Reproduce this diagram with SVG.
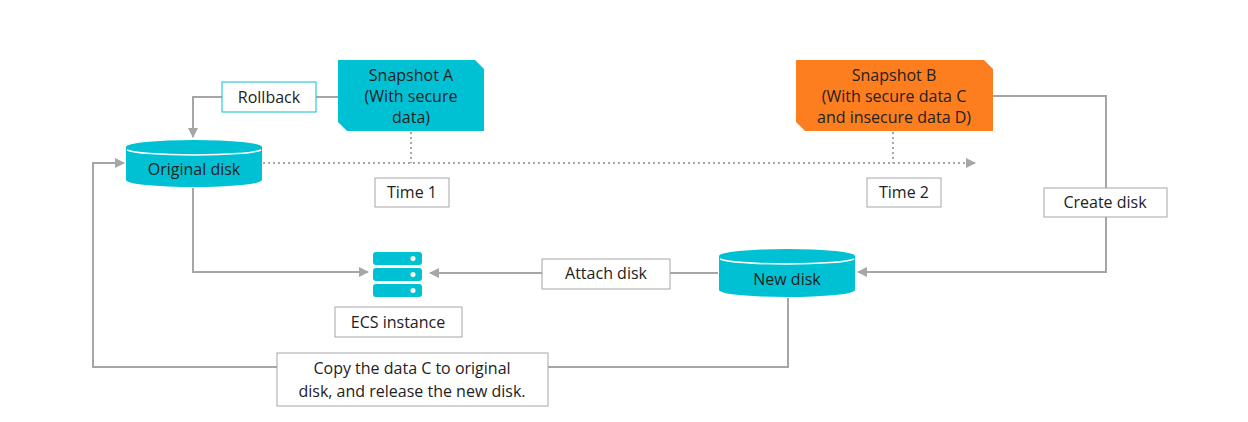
<svg xmlns="http://www.w3.org/2000/svg" width="1248" height="422" viewBox="0 0 1248 422">
<style>
text{font-family:"Open Sans","Noto Sans",sans-serif;font-size:16px;fill:#222;text-anchor:middle}
.ln{stroke:#a6a6a6;stroke-width:2;fill:none}
.dot{stroke:#a6a6a6;stroke-width:2;fill:none;stroke-dasharray:2 3}
.lb{fill:#fff;stroke:#a6a6a6;stroke-width:1}
.cyl{fill:#00c1d4}
</style>
<defs><marker id="ar" viewBox="0 0 10 10" refX="9" refY="5" markerWidth="5" markerHeight="5" orient="auto"><path d="M0,0L10,5L0,10z" fill="#a6a6a6"/></marker></defs>
<rect width="1248" height="422" fill="#fff"/>
<g id="connectors">
<path class="ln" d="M338,97H193V137" marker-end="url(#ar)"/>
<path class="dot" d="M263,163H975" marker-end="url(#ar)"/>
<path class="dot" d="M411,132V163M893,132V163"/>
<path class="ln" d="M993,96H1106V272H858" marker-end="url(#ar)"/>
<path class="ln" d="M193,188V272H368" marker-end="url(#ar)"/>
<path class="ln" d="M718,273H430" marker-end="url(#ar)"/>
<path class="ln" d="M788,298V367H93V163H124" marker-end="url(#ar)"/>
</g>
<g id="snapshotA"><path d="M338,60H475L484,69V131H347L338,122z" fill="#00c1d4"/>
<text x="411" y="81">Snapshot A</text><text x="411" y="102">(With secure</text><text x="411" y="123">data)</text></g>
<g id="snapshotB"><path d="M796,60H984L993,69V131H805L796,122z" fill="#fd7e1e"/>
<text x="894" y="81">Snapshot B</text><text x="894" y="102">(With secure data C</text><text x="894" y="123">and insecure data D)</text></g>
<g id="rollback"><rect class="lb" x="222" y="82" width="94" height="30" style="stroke:#00c1d4"/><text x="269" y="103">Rollback</text></g>
<g id="original"><path class="cyl" d="M126,147A68,7 0 0 1 262,147V180A68,7 0 0 1 126,180z"/><path d="M127,150A68,6 0 0 0 261,150" stroke="#fff" fill="none" stroke-width="1.5"/><text x="194" y="175">Original disk</text></g>
<g id="time1"><rect class="lb" x="375" y="178" width="74" height="29"/><text x="412" y="198">Time 1</text></g>
<g id="time2"><rect class="lb" x="867" y="178" width="74" height="29"/><text x="904" y="198">Time 2</text></g>
<g id="create"><rect class="lb" x="1044" y="188" width="123" height="29"/><text x="1105" y="208">Create disk</text></g>
<g id="newdisk"><path class="cyl" d="M719,256A68,7 0 0 1 855,256V290A68,7 0 0 1 719,290z"/><path d="M720,259A68,6 0 0 0 854,259" stroke="#fff" fill="none" stroke-width="1.5"/><text x="787" y="285">New disk</text></g>
<g id="attach"><rect class="lb" x="542" y="259" width="128" height="30"/><text x="606" y="279">Attach disk</text></g>
<g id="ecs"><rect class="cyl" x="373" y="252" width="49" height="13" rx="3"/><rect class="cyl" x="373" y="268" width="49" height="13" rx="3"/><rect class="cyl" x="373" y="284" width="49" height="13" rx="3"/>
<circle cx="413" cy="258.5" r="2.5" fill="#fff"/><circle cx="413" cy="274.5" r="2.5" fill="#fff"/><circle cx="413" cy="290.5" r="2.5" fill="#fff"/>
<rect class="lb" x="335" y="307" width="127" height="30"/><text x="398" y="328">ECS instance</text></g>
<g id="copy"><rect class="lb" x="277" y="353" width="271" height="53"/><text x="412" y="374">Copy the data C to original</text><text x="412" y="397">disk, and release the new disk.</text></g>
</svg>
